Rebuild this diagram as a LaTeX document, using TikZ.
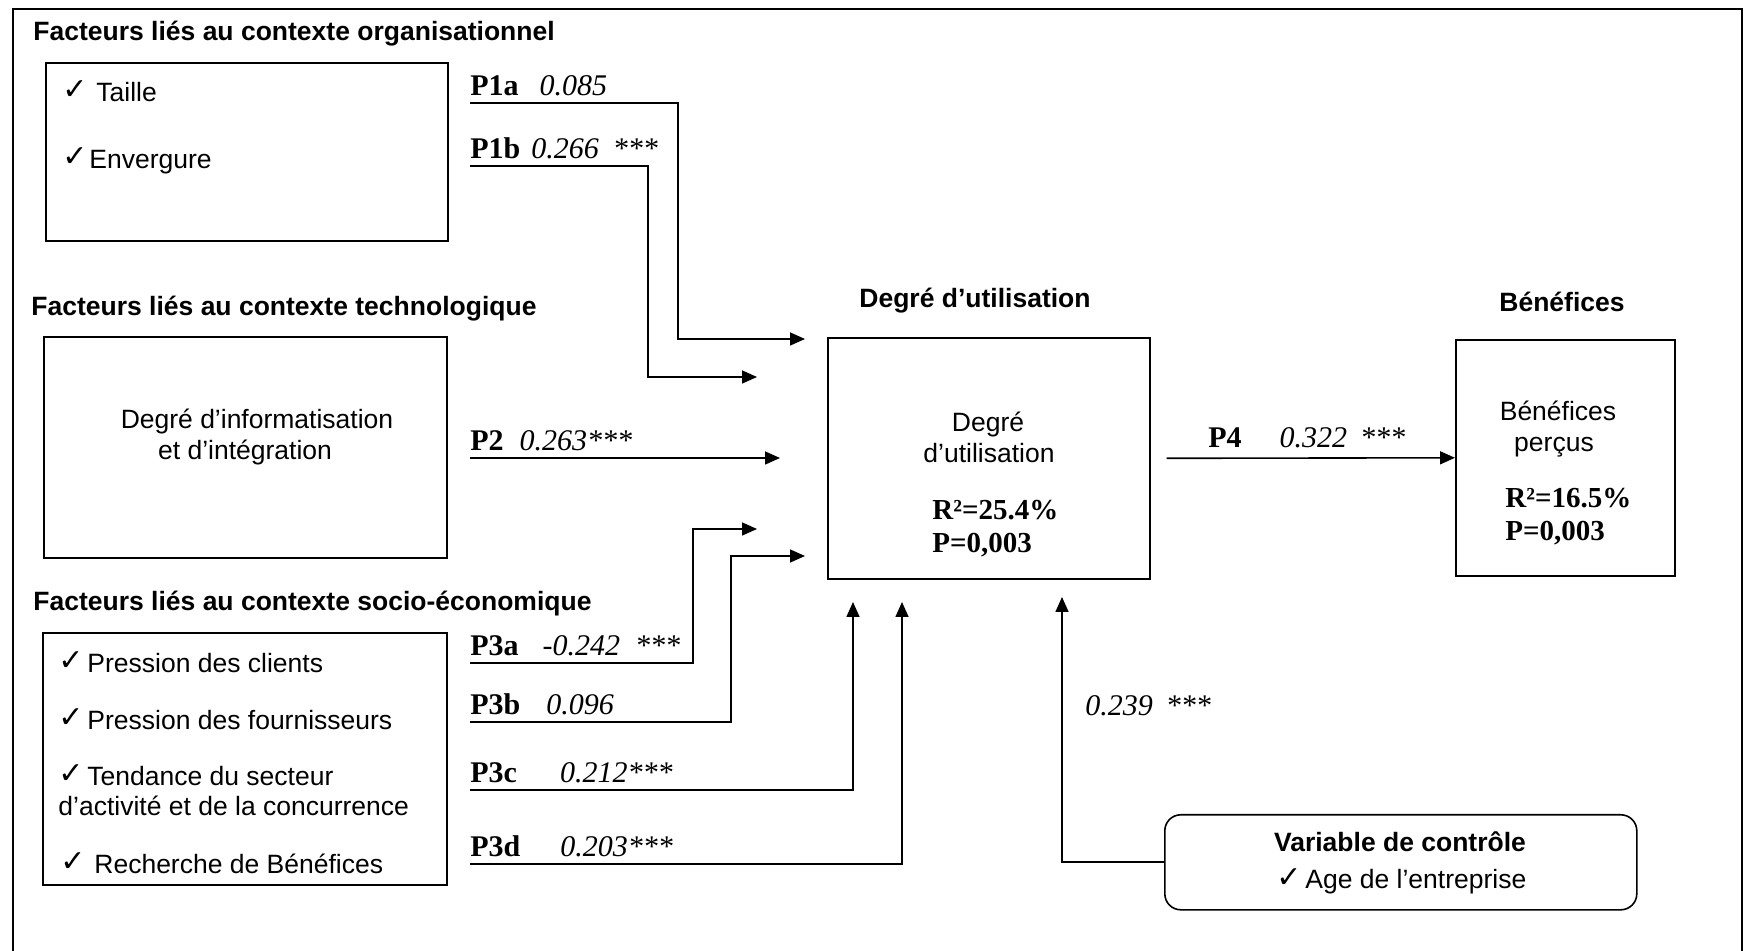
\documentclass[tikz,border=0pt]{standalone}
\usepackage{fontspec}
\usepackage{tikz}
\usetikzlibrary{arrows.meta}
\setmainfont{Liberation Sans}
\newfontfamily\romain{Liberation Serif}
\newfontfamily\symb{DejaVu Sans}
\newcommand{\coche}{\makebox[11pt][l]{\raisebox{1pt}{\fontsize{15}{18}\symb\bfseries ✓}}}

\begin{document}
\begin{tikzpicture}
            [
                x=0.5pt, y=-0.5pt,
                every node/.style={inner sep=0pt},
                boite/.style={draw, line width=0.8pt, anchor=north west},
                titre/.style={anchor=base west,
                    font=\fontsize{13.25}{16}\selectfont\bfseries},
                texte/.style={anchor=base west,
                    font=\fontsize{13.25}{16}\selectfont},
                stat/.style={anchor=base west,
                    font=\fontsize{14.5}{17}\romain\bfseries},
                coef/.style={anchor=south west, inner ysep=3.5pt,
                    font=\fontsize{15}{18}\romain},
                fleche/.style={line width=0.8pt,
                    -{Triangle[length=7.5pt, width=6.5pt]}}
            ]
            \useasboundingbox (0,0) rectangle (1747,951);
            % cadre
            \draw[line width=0.8pt] (13,951) -- (13,9) -- (1742,9) -- (1742,951);

            % contexte organisationnel
            \node[titre] (t-org) at (33,41) {Facteurs liés au contexte organisationnel};
            \node[boite, minimum width=201pt, minimum height=89pt] (org) at (45,62) {};
            \node[texte] (taille) at (62,102) {\coche\hspace{6pt}Taille};
            \node[texte] (envergure) at (62,169) {\coche\hspace{2.5pt}Envergure};

            % contexte technologique
            \node[titre] (t-techno) at (31,316) {Facteurs liés au contexte technologique};
            \node[boite, minimum width=201.5pt, minimum height=110.5pt] (techno) at (43,336) {};
            \node[texte, anchor=base] (info1) at (257,429) {Degré d’informatisation};
            \node[texte, anchor=base] (info2) at (245,460) {et d’intégration};

            % contexte socio-economique
            \node[titre] (t-socio) at (33,611) {Facteurs liés au contexte socio-économique};
            \node[boite, minimum width=202pt, minimum height=126pt] (socio) at (42,632) {};
            \node[texte] (clients) at (58,673) {\coche\hspace{3.5pt}Pression des clients};
            \node[texte] (fournis) at (58,730) {\coche\hspace{3.5pt}Pression des fournisseurs};
            \node[texte] (tendance) at (58,786) {\coche\hspace{3.5pt}Tendance du secteur};
            \node[texte] (activite) at (58,816) {d’activité et de la concurrence};
            \node[texte] (recherche) at (60,873) {\coche\hspace{6pt}Recherche de Bénéfices};

            % degre d'utilisation
            \node[titre, anchor=base] (t-util) at (975,308) {Degré d’utilisation};
            \node[boite, minimum width=161pt, minimum height=120.5pt] (util) at (827,337) {};
            \node[texte, anchor=base] (util1) at (988,432) {Degré};
            \node[texte, anchor=base] (util2) at (989,463) {d’utilisation};
            \node[stat] (r2util) at (932,520) {R²=25.4\%};
            \node[stat] (putil) at (932,553) {P=0,003};

            % benefices
            \node[titre, anchor=base] (t-benef) at (1562,312) {Bénéfices};
            \node[boite, minimum width=109.5pt, minimum height=118pt] (benef) at (1455,339) {};
            \node[texte, anchor=base] (benef1) at (1558,421) {Bénéfices};
            \node[texte, anchor=base] (benef2) at (1554,452) {perçus};
            \node[stat] (r2benef) at (1505,508) {R²=16.5\%};
            \node[stat] (pbenef) at (1505,541) {P=0,003};

            % variable de controle
            \node[boite, rounded corners=8pt, minimum width=236pt, minimum height=47.5pt] (controle) at (1164,814) {};
            \node[titre, anchor=base] (t-controle) at (1400,851) {Variable de contrôle};
            \node[texte] (age) at (1276,889) {\coche\hspace{3.5pt}Age de l’entreprise};

            % coefficients
            \node[coef] (p1a) at (470,103) {\textbf{P1a}\hspace{10.5pt}\textit{0.085}};
            \node[coef] (p1b) at (470,166) {\textbf{P1b}\hspace{5.5pt}\textit{0.266}\hspace{7pt}\textit{***}};
            \node[coef] (p2) at (470,458) {\textbf{P2}\hspace{8pt}\textit{0.263***}};
            \node[coef] (p3a) at (470,663) {\textbf{P3a}\hspace{12pt}\textit{-0.242}\hspace{7.5pt}\textit{***}};
            \node[coef] (p3b) at (470,722) {\textbf{P3b}\hspace{13pt}\textit{0.096}};
            \node[coef] (p3c) at (470,790) {\textbf{P3c}\hspace{21.5pt}\textit{0.212***}};
            \node[coef] (p3d) at (470,864) {\textbf{P3d}\hspace{20pt}\textit{0.203***}};
            \node[coef, anchor=base west] (p4) at (1208,448) {\textbf{P4}\hspace{19pt}\textit{0.322}\hspace{6.5pt}\textit{***}};
            \node[coef, anchor=base west] (pctrl) at (1085,716) {\textit{0.239}\hspace{6.5pt}\textit{***}};

            % fins des fleches
            \coordinate (fin1a) at (805,339);
            \coordinate (fin1b) at (757,377);
            \coordinate (fin2) at (780,458);
            \coordinate (fin3a) at (757,529);
            \coordinate (fin3b) at (805,556);
            \coordinate (fin3c) at (853,602);
            \coordinate (fin3d) at (902,602);
            \coordinate (finctrl) at (1062,597);

            \draw[fleche] (p1a.south west) -- ++(208,0) |- (fin1a);
            \draw[fleche] (p1b.south west) -- ++(178,0) |- (fin1b);
            \draw[fleche] (p2.south west) -- (fin2);
            \draw[fleche] (p3a.south west) -- ++(223,0) |- (fin3a);
            \draw[fleche] (p3b.south west) -- ++(261,0) |- (fin3b);
            \draw[fleche] (p3c.south west) -| (fin3c);
            \draw[fleche] (p3d.south west) -| (fin3d);
            \draw[fleche] ([xshift=8pt]util.east) -- (benef.west);
            \draw[fleche] (controle.west) -| (finctrl);
\end{tikzpicture}
\end{document}
